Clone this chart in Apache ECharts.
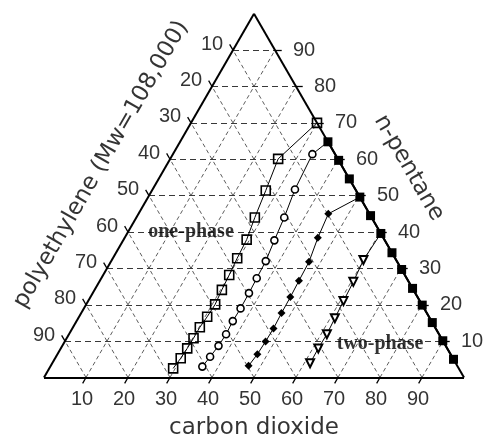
<!DOCTYPE html>
<html>
<head>
<meta charset="utf-8">
<script src="https://cdn.jsdelivr.net/npm/echarts@6/dist/echarts.min.js"></script>
<style>
  html, body { margin: 0; padding: 0; background: #fff; }
  #chart { width: 484px; height: 439px; }
</style>
</head>
<body>
<div id="chart"></div>
<script>
// tick values shared by the three sides
const ticks = [10, 20, 30, 40, 50, 60, 70, 80, 90];

// open squares
const sqCO2 = [29.5, 29.9, 30.1, 30.2, 30.2, 30.5, 30.7, 30.3, 30.0, 29.6, 29.3, 28.2, 27.1, 25.7, 30.0];
const sqPent = [2.5, 5.3, 8.0, 10.8, 13.8, 16.7, 20.1, 24.1, 28.2, 32.8, 37.9, 44.0, 51.4, 60.1, 70.0];

// open circles (last point = where the curve meets the right side)
const ciCO2 = [36.2, 36.7, 37.2, 37.4, 37.2, 37.3, 37.2, 37.0, 36.8, 36.0, 35.2, 33.9, 33.2, 35.2];
const ciPent = [3.0, 5.7, 8.7, 11.9, 15.5, 19.0, 23.2, 27.3, 32.0, 37.7, 44.0, 51.7, 61.4, 64.8];

// filled diamonds
const diCO2 = [47.1, 47.6, 47.8, 47.9, 47.7, 47.6, 47.4, 47.2, 46.0, 45.2, 50.4];
const diPent = [3.2, 6.4, 9.9, 13.5, 17.7, 22.1, 26.6, 31.8, 38.4, 45.0, 49.6];

// inverted triangles
const trCO2 = [61.4, 61.3, 61.4, 61.1, 60.8, 60.5, 59.9, 60.4];
const trPent = [3.9, 8.0, 11.9, 16.3, 21.0, 26.3, 32.3, 39.6];

// filled squares on the CO2 / n-pentane side
const edCO2 = [35.2, 40.3, 45.4, 50.4, 55.5, 60.4, 65.7, 70.3, 75.5, 80.1, 84.9, 89.9, 95.0];
const edPent = [64.8, 59.7, 54.6, 49.6, 44.5, 39.6, 34.3, 29.7, 24.5, 19.9, 15.1, 10.1, 5.0];

// ternary (CO2, n-pentane) -> plane
const H = Math.sqrt(3) / 2;
function tern(c, p) {
  return [c + p / 2, p * H];
}

function points(cs, ps, openEnd) {
  return cs.map(function (c, i) {
    const v = tern(c, ps[i]);
    if (openEnd && i === cs.length - 1) return { value: v, symbol: "none" };
    return v;
  });
}

// grid lines
const horiz = [], constC = [], constPE = [];
ticks.forEach(function (v) {
  horiz.push({ coords: [tern(0, v), tern(100 - v, v)] });
  constC.push({ coords: [tern(v, 0), tern(v, 100 - v)] });
  constPE.push({ coords: [tern(100 - v, 0), tern(0, 100 - v)] });
});

// axis tick marks
const tk = 1.6;
const tickSegs = [];
ticks.forEach(function (v) {
  tickSegs.push({ coords: [tern(v, 0), tern(v, -tk)] });
  tickSegs.push({ coords: [tern(0, 100 - v), tern(-tk, 100 - v + tk)] });
  tickSegs.push({ coords: [tern(100 - v, v), tern(100 - v + tk, v)] });
});

const numFont = { fontFamily: "Liberation Sans", fontSize: 20, color: "#000" };
const titleFont = { fontFamily: "DejaVu Sans", fontSize: 23, color: "#000" };

function labelSeries(data, label) {
  return {
    type: "scatter",
    symbolSize: 1,
    itemStyle: { color: "rgba(0,0,0,0)" },
    silent: true,
    label: Object.assign({ show: true, position: "inside", align: "center", verticalAlign: "middle" }, label),
    data: data,
  };
}

const chart = echarts.init(document.getElementById("chart"));
chart.setOption({
  animation: false,
  backgroundColor: "#fff",
  grid: { left: 0, right: 0, top: 0, bottom: 0 },
  xAxis: { type: "value", min: -44 / 4.2, max: 440 / 4.2, show: false },
  yAxis: { type: "value", min: (377.5 - 439) / 4.2, max: 377.5 / 4.2, show: false },
  series: [
    {
      type: "lines",
      coordinateSystem: "cartesian2d",
      silent: true,
      lineStyle: { color: "#222", width: 0.9, type: [6, 4], opacity: 1 },
      data: horiz,
    },
    {
      type: "lines",
      coordinateSystem: "cartesian2d",
      silent: true,
      lineStyle: { color: "#333", width: 0.8, type: [4, 3], opacity: 1 },
      data: constC.concat(constPE),
    },
    {
      type: "lines",
      coordinateSystem: "cartesian2d",
      silent: true,
      lineStyle: { color: "#000", width: 1.3, opacity: 1 },
      data: tickSegs,
    },
    {
      type: "lines",
      coordinateSystem: "cartesian2d",
      silent: true,
      lineStyle: { color: "#000", width: 2, opacity: 1 },
      data: [
        { coords: [tern(0, 0), tern(100, 0)] },
        { coords: [tern(0, 0), tern(0, 100)] },
        { coords: [tern(100, 0), tern(0, 100)] },
      ],
    },
    {
      name: "open squares",
      type: "line",
      symbol: "rect",
      symbolSize: 9,
      lineStyle: { color: "#000", width: 1 },
      itemStyle: { color: "rgba(255,255,255,0)", borderColor: "#000", borderWidth: 1.6 },
      data: points(sqCO2, sqPent, false),
    },
    {
      name: "open circles",
      type: "line",
      symbol: "circle",
      symbolSize: 7,
      lineStyle: { color: "#000", width: 1 },
      itemStyle: { color: "#fff", borderColor: "#000", borderWidth: 1.6 },
      data: points(ciCO2, ciPent, true),
    },
    {
      name: "filled diamonds",
      type: "line",
      symbol: "diamond",
      symbolSize: 8,
      lineStyle: { color: "#000", width: 1 },
      itemStyle: { color: "#000" },
      data: points(diCO2, diPent, true),
    },
    {
      name: "inverted triangles",
      type: "line",
      symbol: "triangle",
      symbolRotate: 180,
      symbolSize: 8,
      lineStyle: { color: "#000", width: 1 },
      itemStyle: { color: "#fff", borderColor: "#000", borderWidth: 2 },
      data: points(trCO2, trPent, true),
    },
    {
      name: "filled squares",
      type: "line",
      symbol: "rect",
      symbolSize: 9,
      lineStyle: { color: "#000", width: 2 },
      itemStyle: { color: "#000" },
      data: points(edCO2, edPent, false),
    },
    // tick labels
    labelSeries(ticks.map(function (v) { return { value: tern(v, 0), name: String(v) }; }),
      Object.assign({ formatter: "{b}", offset: [-4, 22] }, numFont)),
    labelSeries(ticks.map(function (v) { return { value: tern(0, 100 - v), name: String(v) }; }),
      Object.assign({ formatter: "{b}", offset: [-21, -6] }, numFont)),
    labelSeries(ticks.map(function (v) { return { value: tern(100 - v, v), name: String(v) }; }),
      Object.assign({ formatter: "{b}", offset: [29, 0] }, numFont)),
    // axis titles (offset of a rotated label is in its own frame)
    labelSeries([{ value: tern(50, 0), name: "carbon dioxide" }],
      Object.assign({ formatter: "{b}", offset: [0, 51] }, titleFont)),
    labelSeries([{ value: tern(0, 50), name: "polyethylene (Mw=108,000)" }],
      Object.assign({ formatter: "{b}", offset: [3, -57], rotate: 60 }, titleFont)),
    labelSeries([{ value: tern(50, 50), name: "n-pentane" }],
      Object.assign({ formatter: "{b}", offset: [1, -57], rotate: -60 }, titleFont)),
    // region notes
    labelSeries([{ value: tern(15, 40), name: "one-phase" }, { value: tern(75.4, 9.2), name: "two-phase" }],
      { formatter: "{b}", fontFamily: "Liberation Serif", fontWeight: "bold", fontSize: 20, color: "#000" }),
  ],
});
</script>
</body>
</html>
